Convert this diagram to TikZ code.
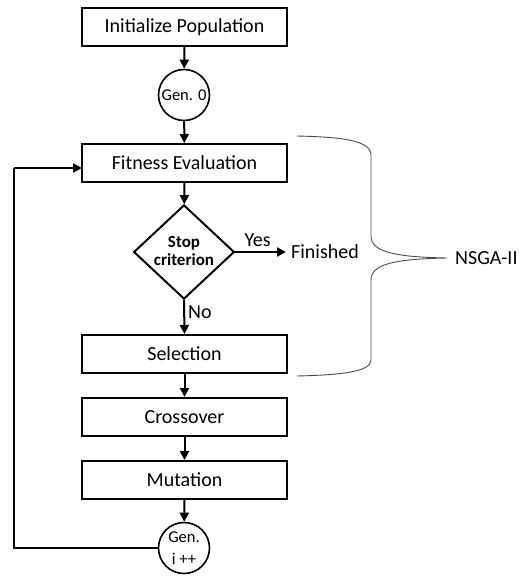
\documentclass[tikz,border=0pt]{standalone}
\usepackage{fontspec}
\setmainfont{Carlito}
\usetikzlibrary{shapes.geometric,arrows.meta}
\begin{document}
\begin{tikzpicture}[x=1pt,y=-1pt,
  box/.style={draw,line width=2pt,minimum width=205pt,minimum height=38pt,inner sep=0pt,font=\fontsize{20}{24}\selectfont},
  gen/.style={draw,circle,line width=1.6pt,minimum size=51pt,inner sep=0pt,font=\fontsize{16.5}{19}\selectfont},
  dec/.style={draw,diamond,line width=2pt,minimum width=96pt,minimum height=90pt,inner sep=0pt,aspect=1.07,font=\fontsize{17}{20}\selectfont\bfseries},
  arr/.style={line width=2pt,-{Triangle[length=9pt,width=9pt]}},
  lbl/.style={font=\fontsize{20}{24}\selectfont,inner sep=0pt},
  brace/.style={draw=black!70,line width=0.9pt}]
\useasboundingbox (0,0) rectangle (532,578);
\node[box] (init) at (184.5,27) {Initialize Population};
\node[gen] (g0) at (184,95) {Gen. 0};
\node[box] (fit) at (184.5,163) {Fitness Evaluation};
\node[dec] (stop) at (184,252) {\begin{tabular}{@{}c@{}}Stop\\[-2pt]criterion\end{tabular}};
\node[box] (sel) at (184.5,354) {Selection};
\node[box] (cro) at (184.5,417) {Crossover};
\node[box] (mut) at (184.5,480) {Mutation};
\node[gen,align=center] (gi) at (184,548) {Gen.\\[3pt]i ++};
\node[lbl,anchor=west] (fin) at (291,252) {Finished};
\node[lbl,anchor=west] (nsga) at (455,258) {NSGA-II};
\coordinate (fb1) at (14,548);
\coordinate (fb2) at (14,168);
\coordinate (fbin) at (82,168);
\draw[arr] (init) -- (g0);
\draw[arr] (g0) -- (fit);
\draw[arr] (fit) -- (stop);
\draw[arr,shorten >=5pt] (stop.east) -- node[lbl,above=4pt,pos=0.4] {Yes} (fin.west);
\draw[arr] (stop.south) -- node[lbl,right=3pt,pos=0.35] {No} (sel.north);
\draw[arr] (sel) -- (cro);
\draw[arr] (cro) -- (mut);
\draw[arr] (mut) -- (gi);
\draw[line width=2pt] (gi.west) -- (fb1) -- (fb2);
\draw[arr] (fb2) -- (fbin);
\coordinate (bt) at (297,136);
\coordinate (bb) at (297,376);
\coordinate (btip) at (447,258);
\draw[brace] (bt) .. controls (340,137) and (371,140) .. (371,155)
  -- (371,236) .. controls (371,252) and (395,257) .. (btip)
  .. controls (395,259) and (371,264) .. (371,280)
  -- (371,360) .. controls (371,372) and (340,375) .. (bb);
\end{tikzpicture}
\end{document}
